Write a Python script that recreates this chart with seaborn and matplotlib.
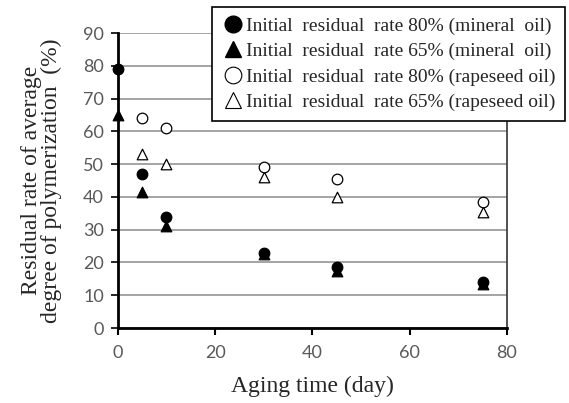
import pandas as pd
import numpy as np
import matplotlib.pyplot as plt
import seaborn as sns

sns.set_theme(style="white")
plt.rcParams['font.family'] = ['Lato', 'DejaVu Sans']

# Values
days_mineral = [0, 5, 10, 30, 45, 75]
mineral_80 = [79, 47, 34, 23, 18.5, 14]
mineral_65 = [65, 41.5, 31, 22.5, 17.5, 13.5]
days_rapeseed = [5, 10, 30, 45, 75]
rapeseed_80 = [64, 61, 49, 45.5, 38.5]
rapeseed_65 = [53, 50, 46, 40, 35.5]

labels = ["Initial  residual  rate 80% (mineral  oil)",
          "Initial  residual  rate 65% (mineral  oil)",
          "Initial  residual  rate 80% (rapeseed oil)",
          "Initial  residual  rate 65% (rapeseed oil)"]

series = [
    (days_mineral, mineral_80, 'o', 'black'),
    (days_mineral, mineral_65, '^', 'black'),
    (days_rapeseed, rapeseed_80, 'o', 'white'),
    (days_rapeseed, rapeseed_65, '^', 'white'),
]

fig = plt.figure(figsize=(5.69, 4.03), dpi=100)
ax = fig.add_axes([0.207, 0.186, 0.684, 0.732])

# draw open markers first, filled on top
for (x, y, m, fc), lab in list(zip(series, labels))[::-1]:
    df = pd.DataFrame({'day': x, 'val': y})
    sns.scatterplot(data=df, x='day', y='val', marker=m, s=58, facecolor=fc,
                    edgecolor='black', linewidth=0.9, ax=ax, zorder=3, clip_on=False)

ax.set_xlim(0, 80)
ax.set_ylim(0, 90)
ax.set_xticks(np.arange(0, 81, 20))
ax.set_yticks(np.arange(0, 91, 10))
ax.yaxis.grid(True, color='#8c8c8c', linewidth=1.1)
ax.xaxis.grid(False)
ax.set_axisbelow(True)

for s in ['left', 'bottom']:
    ax.spines[s].set_color('black')
    ax.spines[s].set_linewidth(2)
ax.spines['right'].set_color('#333333')
ax.spines['right'].set_linewidth(1.2)
ax.spines['top'].set_visible(False)

ax.tick_params(axis='x', which='both', bottom=True, direction='out', length=5,
               width=1.5, color='black', labelsize=13, labelcolor='#595959', pad=7)
ax.tick_params(axis='y', which='both', left=True, direction='out', length=5,
               width=1.2, color='black', labelsize=13, labelcolor='#595959', pad=5)

serif = ['Liberation Serif', 'DejaVu Serif']
ax.set_xlabel("Aging time (day)", family=serif, fontsize=17, labelpad=11)
ax.set_ylabel("Residual rate of average\ndegree of polymerization  (%)",
              family=serif, fontsize=17, labelpad=15, linespacing=0.95)

handles = [
    plt.Line2D([], [], linestyle='none', marker='o', markersize=12,
               markerfacecolor='black', markeredgecolor='black'),
    plt.Line2D([], [], linestyle='none', marker='^', markersize=12,
               markerfacecolor='black', markeredgecolor='black'),
    plt.Line2D([], [], linestyle='none', marker='o', markersize=12,
               markerfacecolor='white', markeredgecolor='black', markeredgewidth=0.8),
    plt.Line2D([], [], linestyle='none', marker='^', markersize=12,
               markerfacecolor='white', markeredgecolor='black', markeredgewidth=0.8),
]
leg = fig.legend(handles, labels, loc='upper left', bbox_to_anchor=(0.372, 0.982),
                 prop={'family': serif, 'size': 14}, frameon=True, fancybox=False,
                 edgecolor='black', framealpha=1, borderpad=0.5, labelspacing=0.4,
                 handletextpad=0.05, handlelength=1.2, borderaxespad=0)
leg.get_frame().set_linewidth(1.2)

plt.savefig('out.png', dpi=100)
